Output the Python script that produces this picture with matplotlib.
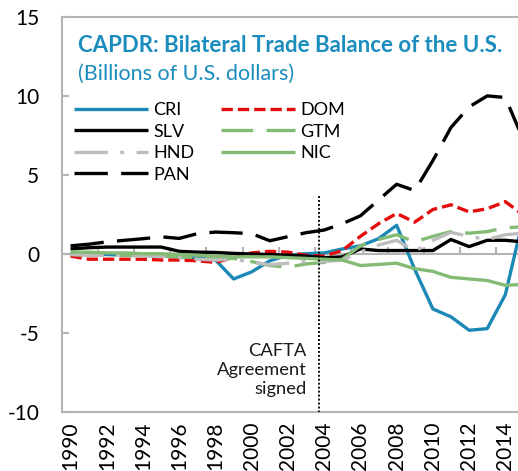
import numpy as np
import matplotlib
matplotlib.use("Agg")
import matplotlib.pyplot as plt

plt.rcParams['font.family'] = ['Lato', 'DejaVu Sans']

years = list(range(1990, 2016))

cri = [0.0, -0.05, -0.05, -0.1, -0.1, -0.15, -0.2, -0.25, -0.4, -1.6,
       -1.15, -0.45, -0.1, 0.0, 0.05, 0.3, 0.5, 0.95, 1.8, -1.0,
       -3.5, -4.0, -4.85, -4.75, -2.6, 2.3]
dom = [-0.15, -0.35, -0.35, -0.35, -0.35, -0.4, -0.4, -0.45, -0.55, -0.25,
       0.05, 0.15, 0.1, -0.1, -0.15, 0.2, 1.1, 1.9, 2.55, 2.0,
       2.8, 3.1, 2.65, 2.85, 3.3, 2.45]
slv = [0.3, 0.38, 0.42, 0.42, 0.42, 0.42, 0.15, 0.1, 0.08, 0.02,
       -0.02, -0.05, -0.1, -0.15, -0.25, -0.2, 0.3, 0.2, 0.2, 0.2,
       0.2, 0.9, 0.45, 0.85, 0.85, 0.75]
gtm = [-0.05, -0.1, -0.1, -0.1, -0.15, -0.15, -0.2, -0.25, -0.3, -0.3,
       -0.5, -0.75, -0.85, -0.65, -0.55, -0.35, 0.5, 0.9, 1.2, 0.75,
       1.1, 1.4, 1.3, 1.4, 1.65, 1.7]
hnd = [-0.05, -0.1, -0.1, -0.1, -0.15, -0.15, -0.25, -0.35, -0.4, -0.35,
       -0.55, -0.7, -0.6, -0.5, -0.5, -0.4, 0.1, 0.55, 0.85, 0.15,
       0.85, 1.35, 1.1, 0.9, 1.2, 1.3]
nic = [0.1, 0.1, 0.05, 0.05, 0.0, 0.0, -0.05, -0.1, -0.15, -0.2,
       -0.2, -0.2, -0.25, -0.3, -0.35, -0.4, -0.75, -0.68, -0.6, -0.95,
       -1.12, -1.5, -1.6, -1.7, -2.0, -1.95]
pan = [0.5, 0.6, 0.75, 0.85, 0.95, 1.07, 0.97, 1.27, 1.37, 1.33,
       1.27, 0.82, 1.08, 1.33, 1.5, 1.9, 2.4, 3.4, 4.4, 4.0,
       5.9, 8.0, 9.3, 10.0, 9.9, 7.2]

xtick_labels = [str(y) for y in range(1990, 2016, 2)]
yticks = [15, 10, 5, 0, -5, -10]
cafta_year = 2003.7

BLUE = '#1B88B5'
RED = '#E30B0B'
GREEN = '#84BB74'
GRAY = '#BDBDBD'
AXIS = '#B4B4B4'
TITLE = '#1A8CBD'
LW = 2.4

fig = plt.figure(figsize=(5.18, 4.71), dpi=100)
ax = fig.add_axes([61.5 / 518, 1 - 411.5 / 471, 471 / 518, 394.5 / 471])
ax.set_xlim(1989.5, 2015.5)
ax.set_ylim(-10, 15)

series = [
    ('CRI', cri, dict(color=BLUE, linestyle='-')),
    ('DOM', dom, dict(color=RED, linestyle=(0, (3.4, 1.5)))),
    ('SLV', slv, dict(color='black', linestyle='-')),
    ('GTM', gtm, dict(color=GREEN, linestyle=(0, (9.5, 4)))),
    ('HND', hnd, dict(color=GRAY, linestyle=(0, (10, 3.7, 1.2, 3.7)))),
    ('NIC', nic, dict(color=GREEN, linestyle='-')),
    ('PAN', pan, dict(color='black', linestyle=(0, (10, 4)))),
]
handles = {}
for i, (name, vals, st) in enumerate(series):
    ln, = ax.plot(years, vals, lw=LW, label=name, zorder=3 + i,
                  solid_capstyle='butt', dash_capstyle='butt', **st)
    handles[name] = ln

# axes styling
for sp in ['left', 'top', 'bottom', 'right']:
    ax.spines[sp].set_color(AXIS)
    ax.spines[sp].set_linewidth(1.5)
ax.axhline(0, color=AXIS, lw=1.5, zorder=2)
tick_x = np.arange(1991.5, 2015.5, 2)
ax.vlines(tick_x, 0, 0.42, color=AXIS, lw=1.5, zorder=2)

ax.set_yticks(yticks)
ax.set_yticklabels([str(v) for v in yticks])
ax.tick_params(axis='y', direction='in', length=5, width=1.5, color=AXIS,
               pad=16, labelsize=15, labelcolor='black')
ax.set_xticks(list(range(1990, 2016, 2)))
ax.set_xticklabels(xtick_labels, rotation=90, va='top')
ax.tick_params(axis='x', length=0, pad=7, labelsize=15, labelcolor='black')

# CAFTA line and text
ax.plot([cafta_year, cafta_year], [3.65, -10], color='black', lw=1.3,
        linestyle=(0, (1.1, 1.1)), zorder=10, clip_on=False)
ax.text(2003.05, -7.35, 'CAFTA\nAgreement\nsigned', ha='right', va='center',
        multialignment='right', fontsize=13.2, linespacing=1.22, color='#1a1a1a')

# Titles
fig.text(78 / 518, 1 - 52 / 471, 'CAPDR: Bilateral Trade Balance of the U.S.',
         color=TITLE, fontsize=16, fontweight='bold', va='baseline', ha='left')
fig.text(78 / 518, 1 - 79.5 / 471, '(Billions of U.S. dollars)',
         color=TITLE, fontsize=15.5, va='baseline', ha='left')

order = ['CRI', 'SLV', 'HND', 'PAN', 'DOM', 'GTM', 'NIC']
leg = fig.legend([handles[n] for n in order], order, ncol=2, frameon=False,
                 loc='upper left', bbox_to_anchor=(74 / 518, 1 - 102 / 471),
                 borderpad=0, borderaxespad=0, fontsize=13,
                 handlelength=4.1, handletextpad=0.3, columnspacing=1.45,
                 labelspacing=0.31)

fig.savefig('out.png', dpi=100)
